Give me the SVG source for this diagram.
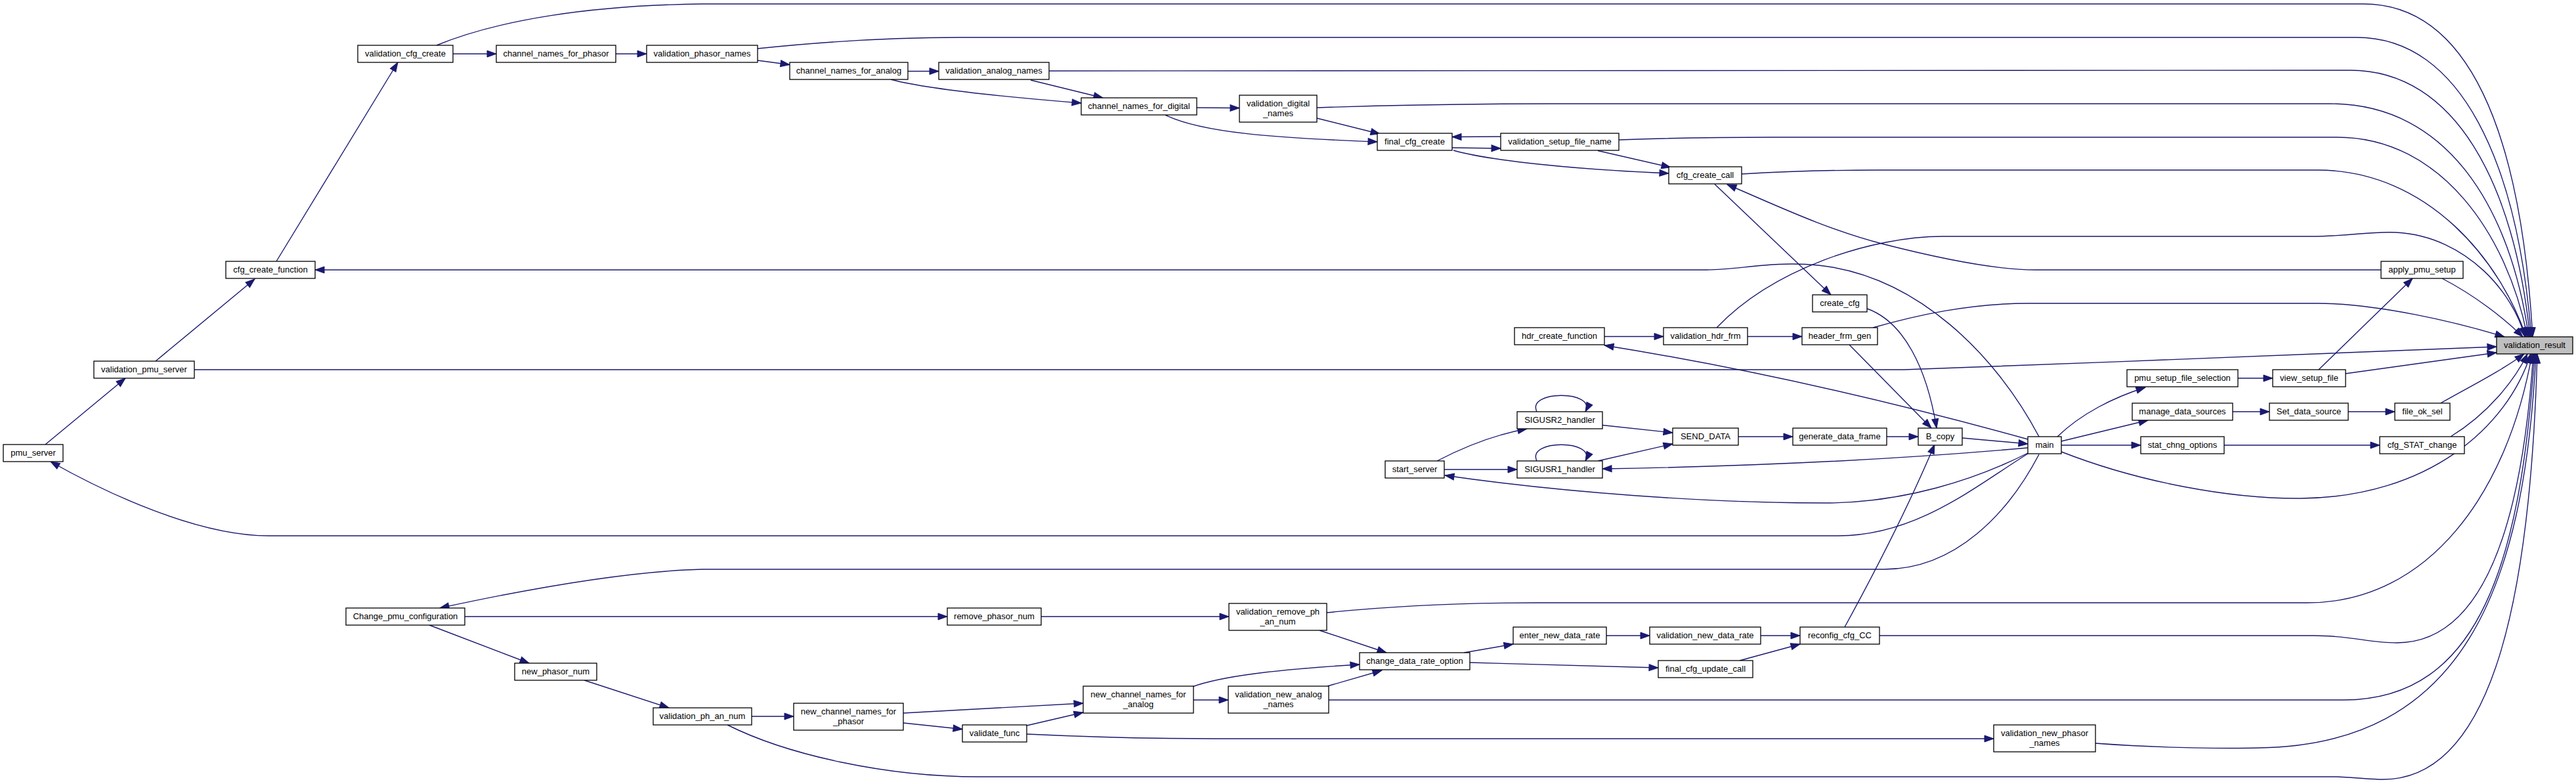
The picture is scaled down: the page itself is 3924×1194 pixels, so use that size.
<svg xmlns="http://www.w3.org/2000/svg" width="3924" height="1194" viewBox="0 0 3924 1194">
<defs>
<style>
.n rect{fill:#ffffff;stroke:#000000;stroke-width:1.3}
.n.f rect{fill:#bfbfbf}
.n text{font-family:"Liberation Sans",Arial,sans-serif;font-size:13px;fill:#000000;text-anchor:middle}
.e path{fill:none;stroke:#191970;stroke-width:1.4;marker-end:url(#ah)}
</style>
<marker id="ah" viewBox="0 0 14 10" refX="14" refY="5" markerWidth="14" markerHeight="10" markerUnits="userSpaceOnUse" orient="auto" overflow="visible">
<path d="M0,0 L14,5 L0,10 z" fill="#191970" stroke="#191970" stroke-width="1"/>
</marker>
</defs>
<rect x="0" y="0" width="3924" height="1194" fill="#ffffff"/>

<g id="edges" class="e">
<path d="M421,398 L606,95"/>
<path d="M690,82 L756,82"/>
<path d="M938,82 L985,82"/>
<path d="M1154,92 L1203,98.5"/>
<path d="M1383,108.5 L1430,108.5"/>
<path d="M1570,122 L1680,149"/>
<path d="M1357,121 C1420,138 1560,150 1647,157"/>
<path d="M1823,164 L1888,164.5"/>
<path d="M2006,180 L2102,204"/>
<path d="M1775,175 C1830,202 1940,210 2098,216"/>
<path d="M2286,208 L2212,208.5"/>
<path d="M2212,225 L2286,226"/>
<path d="M2434,229.5 L2545,255"/>
<path d="M2214,229 C2270,245 2400,258 2542,264"/>
<path d="M2612,280.5 L2789,449"/>
<path d="M3627,411 L3100,411 C3040,411 2960,395 2870,372 C2780,349 2700,310 2631,281"/>
<path d="M3106,665 C3040,540 2920,420 2770,404 C2700,397 2650,411 2600,411 L480,411"/>
<path d="M665,69 C760,30 900,8 1070,6 L3600,6 C3760,6 3840,200 3858,513"/>
<path d="M1154,74 C1250,64 1350,57 1460,57 L3590,57 C3750,57 3835,250 3856,513"/>
<path d="M1598,108 L3580,107 C3740,107 3830,280 3854,513"/>
<path d="M2006,164 C2150,159 2250,158 2360,158 L3550,158 C3730,158 3825,320 3852,513"/>
<path d="M2466,213 C2550,210 2620,209 2700,209 L3560,209 C3720,209 3820,360 3850,513"/>
<path d="M2653,265 C2720,261 2790,259 2860,259 L3530,259 C3700,259 3810,400 3848,513"/>
<path d="M2615,499 C2700,410 2850,360 2960,360 L3520,360 C3580,360 3610,352 3650,354 C3760,360 3830,450 3846,513"/>
<path d="M3720,424 C3770,450 3815,485 3843,513"/>
<path d="M2853,499 C2920,480 3000,462 3090,462 L3530,462 C3620,462 3740,490 3815,513"/>
<path d="M296,563 L2900,563 C3200,553 3600,535 3803,528"/>
<path d="M3573,569 L3803,537"/>
<path d="M3532,563 L3675,424"/>
<path d="M3409,576 L3462,576"/>
<path d="M3134,665 C3170,630 3220,605 3268,590"/>
<path d="M3140,672 L3272,640"/>
<path d="M3140,678 L3261,678"/>
<path d="M3388,678 L3625,678"/>
<path d="M3401,627 L3457,627"/>
<path d="M3577,627 L3648,627"/>
<path d="M3718,614 C3760,590 3810,565 3845,539"/>
<path d="M3733,665 C3790,630 3830,580 3850,539"/>
<path d="M3140,688 C3260,735 3400,760 3505,759 C3700,757 3820,650 3855,539"/>
<path d="M2021,933 C2100,925 2200,918 2340,918 L3515,918 C3700,918 3820,750 3857,539"/>
<path d="M2863,968 L3525,968 C3580,968 3610,979 3651,979 C3800,979 3845,750 3859,539"/>
<path d="M2024,1066 L3570,1066 C3780,1066 3840,850 3861,539"/>
<path d="M3192,1132 C3300,1140 3400,1140 3440,1139 C3750,1135 3845,900 3863,539"/>
<path d="M1108,1104 C1200,1150 1350,1183 1491,1183 L3560,1183 C3600,1185 3610,1187 3630,1187 C3800,1187 3855,900 3865,539"/>
<path d="M3089,669 Q2750,575 2444,526"/>
<path d="M2444,512.5 L2534,512.5"/>
<path d="M2662,512.5 L2745,512.5"/>
<path d="M2817,525 L2942,652"/>
<path d="M2844,470 C2900,490 2935,560 2950,652"/>
<path d="M2810,955 Q2895,800 2947,677"/>
<path d="M2874,665 L2922,665"/>
<path d="M2989,667 L3089,676"/>
<path d="M2648,665 L2731,665"/>
<path d="M2441,647.5 L2548,659"/>
<path d="M2434,702 L2548,676"/>
<path d="M2341,627 C2325,594 2432,594 2415,627"/>
<path d="M2341,702 C2325,669 2432,669 2415,702"/>
<path d="M2189,702 Q2260,665 2326,653"/>
<path d="M2200,715 L2311,715"/>
<path d="M3089,682 Q2800,708 2441,714"/>
<path d="M3089,690 C3010,730 2900,766 2780,766 C2600,766 2380,750 2201,724"/>
<path d="M3089,691 C3010,740 2920,816 2800,816 L410,816 C300,816 160,750 77,703"/>
<path d="M3106,692 C3060,780 2980,867 2870,867 L1070,867 C950,870 790,900 670,926"/>
<path d="M708,939 L1443,939"/>
<path d="M1586,939 L1872,939"/>
<path d="M654,952 L806,1010"/>
<path d="M890,1036 L1019,1078"/>
<path d="M1145,1091 L1209,1091"/>
<path d="M1376,1086 L1650,1071"/>
<path d="M1376,1101 L1466,1110.5"/>
<path d="M1564,1105 L1650,1085"/>
<path d="M1564,1118 C1650,1122 1750,1125 1850,1125 L3037,1125"/>
<path d="M1818,1066 L1871,1066"/>
<path d="M1816,1046 C1860,1030 1940,1020 2071,1012"/>
<path d="M2022,1045 L2105,1021"/>
<path d="M2010,960 L2112,994"/>
<path d="M2230,994 L2305,981"/>
<path d="M2447,968 L2513,968"/>
<path d="M2682,968 L2742,968"/>
<path d="M2238,1009 L2526,1017"/>
<path d="M2650,1006 L2742,981"/>
<path d="M69,677 L191,576"/>
<path d="M237,550 L388,425"/>
</g>

<g id="n_validation_cfg_create" class="n"><rect x="545" y="69" width="145" height="26"/><text x="617.5" y="85.5">validation_cfg_create</text></g>
<g id="n_channel_names_for_phasor" class="n"><rect x="756" y="69" width="182" height="26"/><text x="847" y="85.5">channel_names_for_phasor</text></g>
<g id="n_validation_phasor_names" class="n"><rect x="985" y="69" width="169" height="26"/><text x="1069.5" y="85.5">validation_phasor_names</text></g>
<g id="n_channel_names_for_analog" class="n"><rect x="1203" y="95" width="180" height="26"/><text x="1293" y="111.5">channel_names_for_analog</text></g>
<g id="n_validation_analog_names" class="n"><rect x="1430" y="95" width="168" height="26"/><text x="1514" y="111.5">validation_analog_names</text></g>
<g id="n_channel_names_for_digital" class="n"><rect x="1647" y="149" width="176" height="26"/><text x="1735" y="165.5">channel_names_for_digital</text></g>
<g id="n_validation_digital_names" class="n"><rect x="1888" y="145" width="118" height="41"/><text x="1947" y="161.5">validation_digital</text><text x="1947" y="176.5">_names</text></g>
<g id="n_final_cfg_create" class="n"><rect x="2098" y="203" width="114" height="26"/><text x="2155" y="219.5">final_cfg_create</text></g>
<g id="n_validation_setup_file_name" class="n"><rect x="2286" y="203" width="180" height="26"/><text x="2376" y="219.5">validation_setup_file_name</text></g>
<g id="n_cfg_create_call" class="n"><rect x="2542" y="254" width="111" height="26"/><text x="2597.5" y="270.5">cfg_create_call</text></g>
<g id="n_cfg_create_function" class="n"><rect x="344" y="398" width="136" height="26"/><text x="412" y="414.5">cfg_create_function</text></g>
<g id="n_apply_pmu_setup" class="n"><rect x="3627" y="398" width="125" height="26"/><text x="3689.5" y="414.5">apply_pmu_setup</text></g>
<g id="n_create_cfg" class="n"><rect x="2761" y="449" width="83" height="26"/><text x="2802.5" y="465.5">create_cfg</text></g>
<g id="n_hdr_create_function" class="n"><rect x="2307" y="499" width="137" height="26"/><text x="2375.5" y="515.5">hdr_create_function</text></g>
<g id="n_validation_hdr_frm" class="n"><rect x="2534" y="499" width="128" height="26"/><text x="2598" y="515.5">validation_hdr_frm</text></g>
<g id="n_header_frm_gen" class="n"><rect x="2745" y="499" width="115" height="26"/><text x="2802.5" y="515.5">header_frm_gen</text></g>
<g id="n_validation_result" class="n f"><rect x="3803" y="513" width="116" height="26"/><text x="3861" y="529.5">validation_result</text></g>
<g id="n_validation_pmu_server" class="n"><rect x="143" y="550" width="153" height="26"/><text x="219.5" y="566.5">validation_pmu_server</text></g>
<g id="n_pmu_setup_file_selection" class="n"><rect x="3240" y="563" width="169" height="26"/><text x="3324.5" y="579.5">pmu_setup_file_selection</text></g>
<g id="n_view_setup_file" class="n"><rect x="3462" y="563" width="111" height="26"/><text x="3517.5" y="579.5">view_setup_file</text></g>
<g id="n_manage_data_sources" class="n"><rect x="3248" y="614" width="153" height="26"/><text x="3324.5" y="630.5">manage_data_sources</text></g>
<g id="n_Set_data_source" class="n"><rect x="3457" y="614" width="120" height="26"/><text x="3517" y="630.5">Set_data_source</text></g>
<g id="n_file_ok_sel" class="n"><rect x="3648" y="614" width="84" height="26"/><text x="3690" y="630.5">file_ok_sel</text></g>
<g id="n_SIGUSR2_handler" class="n"><rect x="2311" y="627" width="130" height="26"/><text x="2376" y="643.5">SIGUSR2_handler</text></g>
<g id="n_SEND_DATA" class="n"><rect x="2548" y="652" width="100" height="26"/><text x="2598" y="668.5">SEND_DATA</text></g>
<g id="n_generate_data_frame" class="n"><rect x="2731" y="652" width="143" height="26"/><text x="2802.5" y="668.5">generate_data_frame</text></g>
<g id="n_B_copy" class="n"><rect x="2922" y="652" width="67" height="26"/><text x="2955.5" y="668.5">B_copy</text></g>
<g id="n_main" class="n"><rect x="3089" y="665" width="51" height="26"/><text x="3114.5" y="681.5">main</text></g>
<g id="n_stat_chng_options" class="n"><rect x="3261" y="665" width="127" height="26"/><text x="3324.5" y="681.5">stat_chng_options</text></g>
<g id="n_cfg_STAT_change" class="n"><rect x="3625" y="665" width="129" height="26"/><text x="3689.5" y="681.5">cfg_STAT_change</text></g>
<g id="n_pmu_server" class="n"><rect x="5" y="677" width="91" height="26"/><text x="50.5" y="693.5">pmu_server</text></g>
<g id="n_start_server" class="n"><rect x="2110" y="702" width="90" height="26"/><text x="2155" y="718.5">start_server</text></g>
<g id="n_SIGUSR1_handler" class="n"><rect x="2311" y="702" width="130" height="26"/><text x="2376" y="718.5">SIGUSR1_handler</text></g>
<g id="n_Change_pmu_configuration" class="n"><rect x="527" y="926" width="181" height="26"/><text x="617.5" y="942.5">Change_pmu_configuration</text></g>
<g id="n_remove_phasor_num" class="n"><rect x="1443" y="926" width="143" height="26"/><text x="1514.5" y="942.5">remove_phasor_num</text></g>
<g id="n_validation_remove_ph_an_num" class="n"><rect x="1872" y="919" width="149" height="41"/><text x="1946.5" y="935.5">validation_remove_ph</text><text x="1946.5" y="950.5">_an_num</text></g>
<g id="n_enter_new_data_rate" class="n"><rect x="2305" y="955" width="142" height="26"/><text x="2376" y="971.5">enter_new_data_rate</text></g>
<g id="n_validation_new_data_rate" class="n"><rect x="2513" y="955" width="169" height="26"/><text x="2597.5" y="971.5">validation_new_data_rate</text></g>
<g id="n_reconfig_cfg_CC" class="n"><rect x="2742" y="955" width="121" height="26"/><text x="2802.5" y="971.5">reconfig_cfg_CC</text></g>
<g id="n_change_data_rate_option" class="n"><rect x="2071" y="994" width="168" height="26"/><text x="2155" y="1010.5">change_data_rate_option</text></g>
<g id="n_final_cfg_update_call" class="n"><rect x="2526" y="1006" width="144" height="26"/><text x="2598" y="1022.5">final_cfg_update_call</text></g>
<g id="n_new_phasor_num" class="n"><rect x="784" y="1010" width="125" height="26"/><text x="846.5" y="1026.5">new_phasor_num</text></g>
<g id="n_new_channel_names_for_analog" class="n"><rect x="1650" y="1045" width="168" height="41"/><text x="1734" y="1061.5">new_channel_names_for</text><text x="1734" y="1076.5">_analog</text></g>
<g id="n_validation_new_analog_names" class="n"><rect x="1871" y="1045" width="153" height="41"/><text x="1947.5" y="1061.5">validation_new_analog</text><text x="1947.5" y="1076.5">_names</text></g>
<g id="n_validation_ph_an_num" class="n"><rect x="995" y="1078" width="150" height="26"/><text x="1070" y="1094.5">validation_ph_an_num</text></g>
<g id="n_new_channel_names_for_phasor" class="n"><rect x="1209" y="1071" width="167" height="41"/><text x="1292.5" y="1087.5">new_channel_names_for</text><text x="1292.5" y="1102.5">_phasor</text></g>
<g id="n_validate_func" class="n"><rect x="1466" y="1104" width="98" height="26"/><text x="1515" y="1120.5">validate_func</text></g>
<g id="n_validation_new_phasor_names" class="n"><rect x="3037" y="1104" width="155" height="41"/><text x="3114.5" y="1120.5">validation_new_phasor</text><text x="3114.5" y="1135.5">_names</text></g>
</svg>
